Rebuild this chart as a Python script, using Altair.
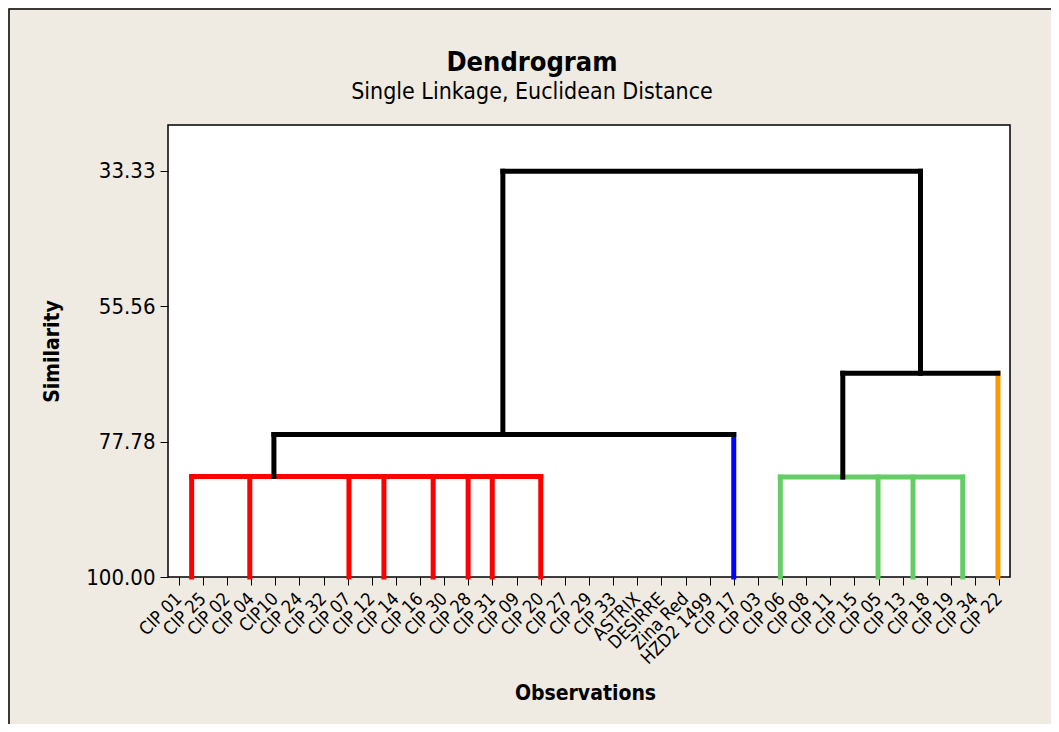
import json
import altair as alt
import pandas as pd

# Leaf labels in dendrogram order
labels = ["CIP 01", "CIP 25", "CIP 02", "CIP 04", "CIP10", "CIP 24", "CIP 32", "CIP 07",
          "CIP 12", "CIP 14", "CIP 16", "CIP 30", "CIP 28", "CIP 31", "CIP 09", "CIP 20",
          "CIP 27", "CIP 29", "CIP 33", "ASTRIX", "DESIRRE", "Zina Red", "HZD2 1499",
          "CIP 17", "CIP 03", "CIP 06", "CIP 08", "CIP 11", "CIP 15", "CIP 05", "CIP 13",
          "CIP 18", "CIP 19", "CIP 34", "CIP 22"]

# Branch segments (observation position, similarity) as drawn
seg_x1 = [1.53, 3.94, 8.05, 9.50, 11.54, 12.99, 13.99, 16.0, 1.53,
          24.0,
          25.93, 29.98, 31.43, 33.49, 25.93,
          34.95,
          4.94, 4.94, 14.43, 14.43, 31.74, 28.52, 28.52]
seg_x2 = [1.53, 3.94, 8.05, 9.50, 11.54, 12.99, 13.99, 16.0, 16.0,
          24.0,
          25.93, 29.98, 31.43, 33.49, 33.49,
          34.95,
          4.94, 24.0, 14.43, 31.74, 31.74, 34.95, 28.52]
seg_y1 = [100, 100, 100, 100, 100, 100, 100, 100, 83.5,
          100,
          100, 100, 100, 100, 83.6,
          100,
          83.5, 76.6, 76.6, 33.4, 33.4, 66.55, 66.55]
seg_y2 = [83.5, 83.5, 83.5, 83.5, 83.5, 83.5, 83.5, 83.5, 83.5,
          76.6,
          83.6, 83.6, 83.6, 83.6, 83.6,
          66.55,
          76.6, 76.6, 33.4, 33.4, 66.55, 66.55, 83.6]
seg_group = ["red"] * 9 + ["blue"] + ["green"] * 5 + ["orange"] + ["black"] * 7

y_ticks = [33.33, 55.56, 77.78, 100.00]
x_ticks = list(range(1, len(labels) + 1))

group_domain = ["red", "blue", "green", "orange", "black"]
group_colors = ["#FF0000", "#0000FF", "#66CC66", "#FF9900", "#000000"]

df = pd.DataFrame({"x1": seg_x1, "x2": seg_x2, "y1": seg_y1, "y2": seg_y2, "g": seg_group})

FONT = "DejaVu Sans Condensed, DejaVu Sans"
label_expr = json.dumps(labels) + "[datum.value - 1]"

segs = alt.Chart(df).mark_rule(strokeWidth=5, strokeCap="square").encode(
    x=alt.X("x1:Q",
            scale=alt.Scale(domain=[0.55, 35.45], nice=False, zero=False),
            axis=alt.Axis(values=x_ticks, labelExpr=label_expr, labelAngle=315,
                          labelAlign="right", labelBaseline="middle",
                          labelFont=FONT, labelFontSize=18, labelColor="black",
                          labelPadding=11, labelOverlap=False,
                          tickSize=8, tickColor="black", domain=False, grid=False,
                          title="Observations", titleFont=FONT, titleFontSize=21,
                          titleFontWeight="bold", titleColor="black",
                          titleX=417, titleY=116, titleBaseline="middle")),
    x2="x2:Q",
    y=alt.Y("y1:Q",
            scale=alt.Scale(domain=[25.79, 100], nice=False, zero=False, reverse=True),
            axis=alt.Axis(values=y_ticks, format=".2f", labelFont=FONT, labelFontSize=22,
                          labelColor="black", labelPadding=5, tickSize=8, tickColor="black",
                          domain=False, grid=False,
                          title="Similarity", titleFont=FONT, titleFontSize=21,
                          titleFontWeight="bold", titleColor="black",
                          titleX=-116, titleY=226, titleAngle=270,
                          titleAlign="center", titleBaseline="middle")),
    y2="y2:Q",
    color=alt.Color("g:N", scale=alt.Scale(domain=group_domain, range=group_colors), legend=None),
)

frame = alt.Chart(pd.DataFrame({"a": [0]})).mark_rect(
    fillOpacity=0, stroke="black", strokeWidth=1.5
).encode(x=alt.value(-159), x2=alt.value(884), y=alt.value(-116), y2=alt.value(700))

chart = alt.layer(segs, frame).properties(
    width=842, height=452,
    autosize=alt.AutoSizeParams(type="none"),
    padding={"left": 160, "top": 117, "right": 41, "bottom": 147},
    background="#EFEBE2",
    title=alt.TitleParams(text="Dendrogram", subtitle="Single Linkage, Euclidean Distance",
                          font=FONT, fontSize=27, fontWeight="bold", color="black",
                          subtitleFont=FONT, subtitleFontSize=23, subtitleColor="black",
                          anchor="middle", dx=-57, dy=117, offset=20, subtitlePadding=4),
).configure_view(fill="white", stroke="black", strokeWidth=1.5)

chart.save("out.html", embed_options={"renderer": "svg", "actions": False})
